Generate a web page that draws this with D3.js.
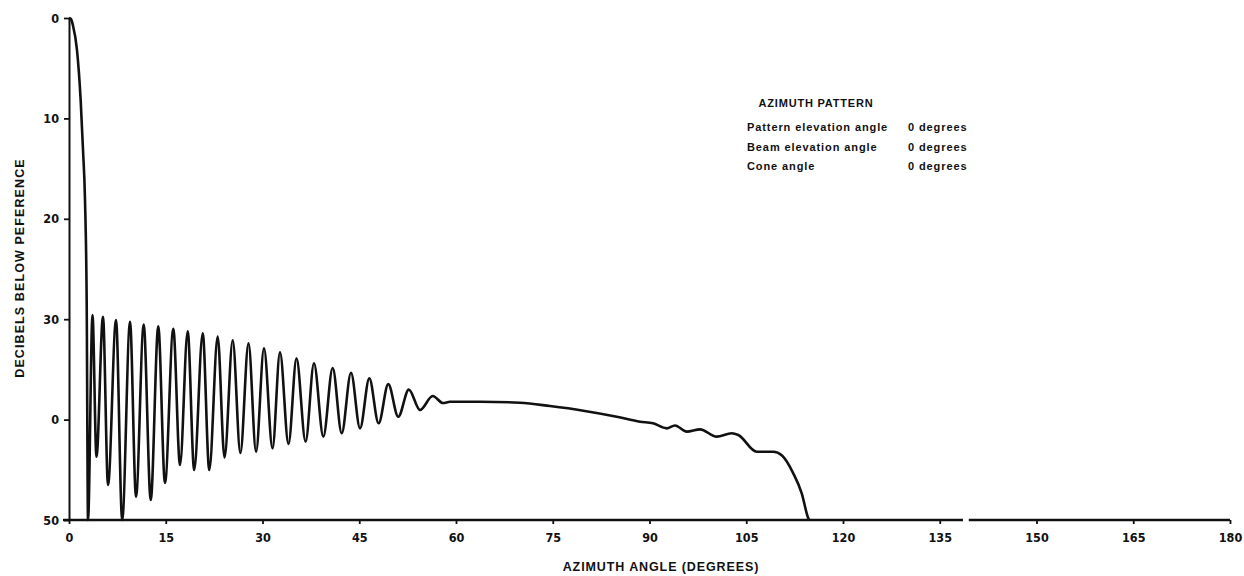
<!DOCTYPE html>
<html>
<head>
<meta charset="utf-8">
<script src="https://cdn.jsdelivr.net/npm/d3@7"></script>
<style>
  html, body { margin: 0; padding: 0; background: #fff; }
  svg { display: block; }
  text { fill: #111; }
</style>
</head>
<body>
<svg id="chart" width="1244" height="576"></svg>
<script>
// ---- data ----
const xTicks = [0, 15, 30, 45, 60, 75, 90, 105, 120, 135, 150, 165, 180];
const yTicks = [0, 10, 20, 30, 40, 50];
const yTickLabels = ["0", "10", "20", "30", "0", "50"];

// main beam (azimuth deg, dB below reference)
const beamAz = [0, 0.3, 0.6, 1.24, 1.81, 2.17, 2.48, 2.74, 2.95];
const beamDb = [0, 0.1, 0.7, 3.2, 8.2, 13.1, 18.1, 28.1, 50];

// side lobes: peaks and nulls
const peakAz = [3.64, 5.27, 7.29, 9.46, 11.58, 13.84, 16.17, 18.40, 20.73, 23.05, 25.38, 27.83, 30.23, 32.71, 35.27, 37.98, 40.88, 43.72, 46.56, 49.50, 52.68, 56.39];
const peakDb = [29.58, 29.75, 30.08, 30.25, 30.53, 30.71, 30.95, 31.20, 31.40, 31.74, 32.10, 32.40, 32.90, 33.29, 33.90, 34.39, 34.86, 35.33, 35.89, 36.47, 37.01, 37.65];
const nullAz = [4.26, 6.05, 8.25, 10.39, 12.67, 14.88, 17.21, 19.41, 21.75, 24.11, 26.57, 29.00, 31.55, 34.03, 36.68, 39.43, 42.28, 45.12, 48.00, 51.05, 54.42, 57.98];
const nullDb = [43.70, 46.51, 50.00, 47.68, 48.01, 46.31, 44.52, 45.02, 45.02, 43.78, 43.33, 43.20, 42.86, 42.43, 42.20, 41.70, 41.36, 40.87, 40.37, 39.71, 39.04, 38.35];

// far-out region
const tailAz = [59.07, 63.72, 69.92, 74.57, 79.74, 84.92, 88.53, 90.54, 92.67, 93.95, 95.77, 97.83, 100.42, 102.74, 103.77, 106.62, 109.19, 110.54, 112.29, 113.60, 114.62, 114.75];
const tailDb = [38.22, 38.22, 38.32, 38.65, 39.11, 39.71, 40.21, 40.37, 40.87, 40.59, 41.20, 40.97, 41.70, 41.36, 41.53, 43.20, 43.20, 43.58, 45.35, 47.34, 49.83, 50];

const legendTitle = "AZIMUTH PATTERN";
const legendRows = ["Pattern elevation angle", "Beam elevation angle", "Cone angle"];
const legendValues = ["0 degrees", "0 degrees", "0 degrees"];

// ---- build series ----
const pts = [];
beamAz.forEach((a, i) => pts.push([a, beamDb[i]]));
peakAz.forEach((a, i) => { pts.push([a, peakDb[i]]); pts.push([nullAz[i], nullDb[i]]); });
tailAz.forEach((a, i) => pts.push([a, tailDb[i]]));

// ---- scales ----
const svg = d3.select("#chart");
const x = d3.scaleLinear().domain([0, 180]).range([69, 1230]);
const y = d3.scaleLinear().domain([0, 50]).range([18, 520]);
const ink = "#111";
const tickFont = "'Liberation Sans Narrow', 'DejaVu Sans Condensed', sans-serif";
const labelFont = "'Liberation Sans', Arial, sans-serif";

// ---- axes ----
const gx = svg.append("g").attr("transform", `translate(0,${y(50)})`)
  .call(d3.axisBottom(x).tickValues(xTicks).tickSize(4).tickSizeOuter(0).tickPadding(9));
gx.select(".domain").remove();
gx.selectAll(".tick line").attr("stroke", ink).attr("stroke-width", 1.8);
gx.selectAll(".tick text").attr("font-family", tickFont).attr("font-weight", "bold")
  .attr("font-size", 12.5).attr("fill", ink);

// bottom axis line with the small gap
const axisSegs = [[0, 138.6], [139.5, 180]];
svg.selectAll("line.xaxis").data(axisSegs).join("line").attr("class", "xaxis")
  .attr("x1", d => d[0] === 0 ? x(0) - 6 : x(d[0])).attr("x2", d => x(d[1]))
  .attr("y1", y(50)).attr("y2", y(50))
  .attr("stroke", ink).attr("stroke-width", 2.6);

const gy = svg.append("g").attr("transform", `translate(${x(0)},0)`)
  .call(d3.axisLeft(y).tickValues(yTicks).tickFormat((d, i) => yTickLabels[i])
    .tickSize(5).tickSizeOuter(0).tickPadding(5));
gy.select(".domain").attr("stroke", ink).attr("stroke-width", 2);
gy.selectAll(".tick line").attr("stroke", ink).attr("stroke-width", 1.8);
gy.selectAll(".tick text").attr("font-family", tickFont).attr("font-weight", "bold")
  .attr("font-size", 12.5).attr("fill", ink);

// ---- curve ----
const line = d3.line().x(d => x(d[0])).y(d => y(d[1])).curve(d3.curveMonotoneX);
svg.append("path").datum(pts).attr("d", line)
  .attr("fill", "none").attr("stroke", ink).attr("stroke-width", 2.6)
  .attr("stroke-linejoin", "round");

// ---- axis titles ----
svg.append("text").attr("x", 661).attr("y", 571).attr("text-anchor", "middle")
  .attr("font-family", labelFont).attr("font-weight", "bold")
  .attr("font-size", 12.5).attr("letter-spacing", 0.9).text("AZIMUTH ANGLE (DEGREES)");
svg.append("text").attr("transform", "translate(24,268) rotate(-90)").attr("text-anchor", "middle")
  .attr("font-family", labelFont).attr("font-weight", "bold")
  .attr("font-size", 12.5).attr("letter-spacing", 1.1).text("DECIBELS BELOW PEFERENCE");

// ---- legend block ----
const lg = svg.append("g").attr("font-family", labelFont).attr("font-weight", "bold");
lg.append("text").attr("x", 816).attr("y", 107).attr("text-anchor", "middle")
  .attr("font-size", 11).attr("letter-spacing", 0.8).text(legendTitle);
lg.selectAll("text.row").data(legendRows).join("text").attr("class", "row")
  .attr("x", 747).attr("y", (d, i) => 131 + i * 19.5).attr("font-size", 11)
  .attr("letter-spacing", 0.9).text(d => d);
lg.selectAll("text.val").data(legendValues).join("text").attr("class", "val")
  .attr("x", 908).attr("y", (d, i) => 131 + i * 19.5).attr("font-size", 11)
  .attr("letter-spacing", 0.9).text(d => d);
</script>
</body>
</html>
